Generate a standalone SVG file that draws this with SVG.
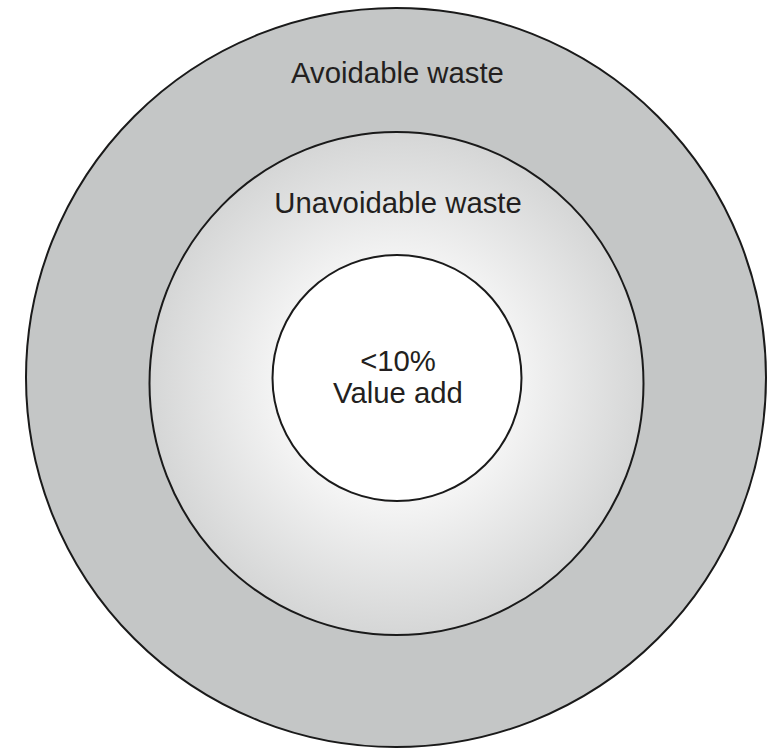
<svg xmlns="http://www.w3.org/2000/svg" width="780" height="749" viewBox="0 0 780 749">
  <defs>
    <radialGradient id="midGrad" cx="0.5" cy="0.5" r="0.5">
      <stop offset="0" stop-color="#ffffff"/>
      <stop offset="0.45" stop-color="#f6f6f6"/>
      <stop offset="1" stop-color="#d5d6d6"/>
    </radialGradient>
    <style>
      .ring { stroke: #1a1a1a; stroke-width: 2; }
      .lbl { font-family: "Liberation Sans", Arial, sans-serif; font-size: 29.3px; fill: #231f20; text-anchor: middle; }
    </style>
  </defs>
  <rect width="780" height="749" fill="#ffffff"/>
  <g id="avoidable">
    <ellipse class="ring" cx="396" cy="377.5" rx="370" ry="369.5" fill="#c4c6c6"/>
    <text class="lbl" x="397.5" y="83">Avoidable waste</text>
  </g>
  <g id="unavoidable">
    <ellipse class="ring" cx="396.5" cy="383.5" rx="247" ry="251.5" fill="url(#midGrad)"/>
    <text class="lbl" x="398" y="213">Unavoidable waste</text>
  </g>
  <g id="valueadd">
    <ellipse class="ring" cx="397" cy="378" rx="124.5" ry="123" fill="#ffffff"/>
    <text class="lbl" x="398" y="371">&lt;10%</text>
    <text class="lbl" x="398" y="403">Value add</text>
  </g>
  <g id="connectors"/>
</svg>
